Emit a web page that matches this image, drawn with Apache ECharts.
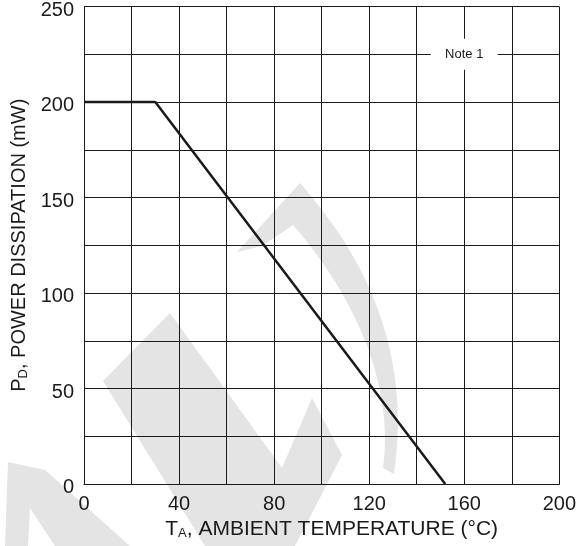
<!DOCTYPE html>
<html>
<head>
<meta charset="utf-8">
<script src="https://cdn.jsdelivr.net/npm/echarts@6/dist/echarts.min.js"></script>
<style>
html,body{margin:0;padding:0;background:#fff;}
#wrap{position:relative;width:579px;height:546px;}
#wm,#c{position:absolute;left:0;top:0;width:579px;height:546px;}
</style>
</head>
<body>
<div id="wrap"><div id="wm"></div><div id="c"></div></div>
<script>
// Data
var temperature = [0, 30, 152];          // T_A (°C)
var powerDissipation = [200, 200, 0];    // P_D (mW)
var xTickLabels = [0, 40, 80, 120, 160, 200];
var yTickLabels = [0, 50, 100, 150, 200, 250];
var noteText = 'Note 1';
var notePos = [160, 225];

var FONT = 'Liberation Sans, Arial, sans-serif';
var INK = '#1a1a1a';
var WM = '#e4e4e4';

// decorative watermark outline (cubic bezier sampling)
function cubic(p0, p1, p2, p3, n) {
  var out = [];
  for (var i = 0; i <= n; i++) {
    var t = i / n, u = 1 - t;
    out.push([
      u*u*u*p0[0] + 3*u*u*t*p1[0] + 3*u*t*t*p2[0] + t*t*t*p3[0],
      u*u*u*p0[1] + 3*u*u*t*p1[1] + 3*u*t*t*p2[1] + t*t*t*p3[1]
    ]);
  }
  return out;
}
var outerEdge = cubic([300,183],[345,235],[415,330],[394,474], 24);
var innerEdge = cubic([383,468],[395,380],[350,290],[293,225], 24);
var jShape = [[237,252]].concat(outerEdge, innerEdge, [[262,246]]);

// watermark layer (underneath the chart)
var wm = echarts.init(document.getElementById('wm'), null, {renderer: 'canvas'});
wm.setOption({
  animation: false,
  backgroundColor: '#fff',
  graphic: [
    {type: 'polygon', shape: {points: [[8,462],[45,470],[130,546],[55,546],[30,508],[28,546],[5,546]]}, style: {fill: WM}},
    {type: 'polygon', shape: {points: [[103,381],[170,313],[282,468],[312,398],[342,455],[295,546],[205,546]]}, style: {fill: WM}},
    {type: 'polygon', shape: {points: jShape}, style: {fill: WM}}
  ]
});

var chart = echarts.init(document.getElementById('c'), null, {renderer: 'canvas'});
var lineData = temperature.map(function (t, i) { return [t, powerDissipation[i]]; });

chart.setOption({
  animation: false,
  backgroundColor: 'transparent',
  grid: {left: 84, right: 16, top: 6, bottom: 62, containLabel: false},
  xAxis: {
    type: 'value', min: 0, max: 200, interval: 20,
    name: '{m|T}{s|A}{m|, AMBIENT TEMPERATURE (°C)}',
    nameLocation: 'middle', nameGap: 30,
    nameTextStyle: {
      padding: [0, 0, 0, 20],
      rich: {
        m: {fontSize: 21, fontFamily: FONT, color: INK, lineHeight: 26, verticalAlign: 'bottom'},
        s: {fontSize: 13, fontFamily: FONT, color: INK, lineHeight: 13, verticalAlign: 'bottom'}
      }
    },
    axisLine: {show: true, lineStyle: {color: INK, width: 1}},
    axisTick: {show: false},
    splitLine: {show: true, lineStyle: {color: INK, width: 1}},
    axisLabel: {
      margin: 10, fontSize: 20, fontFamily: FONT, color: INK,
      formatter: function (v) { return xTickLabels.indexOf(v) >= 0 ? String(v) : ''; }
    }
  },
  yAxis: {
    type: 'value', min: 0, max: 250, interval: 25,
    name: '{m|P}{s|D}{m|, POWER DISSIPATION (mW)}',
    nameLocation: 'middle', nameGap: 52, nameRotate: 90,
    nameTextStyle: {
      rich: {
        m: {fontSize: 20, fontFamily: FONT, color: INK, lineHeight: 26, verticalAlign: 'bottom'},
        s: {fontSize: 13, fontFamily: FONT, color: INK, lineHeight: 13, verticalAlign: 'bottom'}
      }
    },
    axisLine: {show: true, lineStyle: {color: INK, width: 1}},
    axisTick: {show: false},
    splitLine: {show: true, lineStyle: {color: INK, width: 1}},
    axisLabel: {
      margin: 10, color: INK,
      formatter: function (v) { return yTickLabels.indexOf(v) >= 0 ? '{v|' + v + '}' : ''; },
      rich: {v: {fontSize: 20, fontFamily: FONT, color: INK, padding: [7, 0, 0, 0]}}
    }
  },
  series: [{
    type: 'line',
    z: 10,
    data: lineData,
    symbol: 'none',
    lineStyle: {color: INK, width: 2.5},
    markPoint: {
      symbol: 'rect',
      symbolSize: [67, 31],
      itemStyle: {color: '#fff'},
      label: {show: true, position: 'inside', formatter: noteText, fontSize: 13, fontFamily: FONT, color: INK},
      data: [{coord: notePos}]
    }
  }]
});
</script>
</body>
</html>
